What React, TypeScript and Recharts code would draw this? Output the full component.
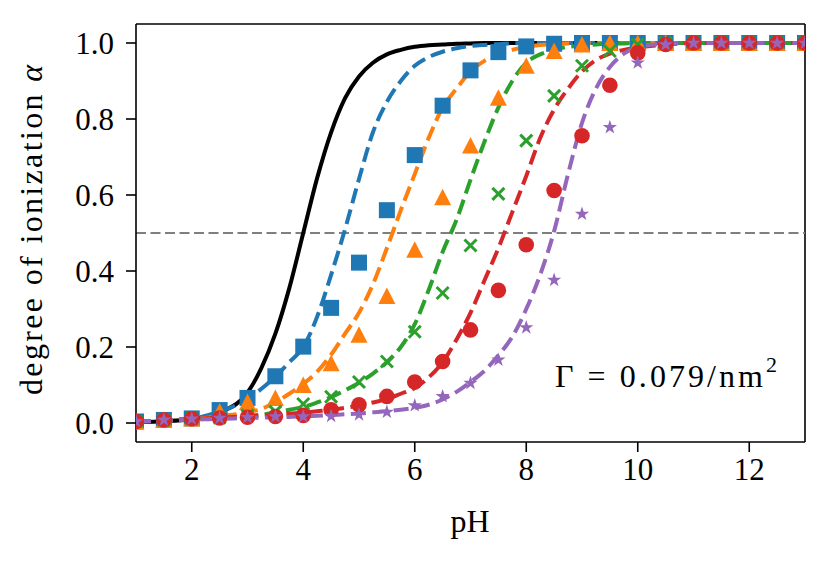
import { ComposedChart, Line, Scatter, XAxis, YAxis, ReferenceLine, Label } from "recharts";

const curvePH = [1, 2, 2.5, 3, 3.25, 3.5, 3.75, 4, 4.25, 4.5, 4.75, 5, 5.25, 5.5, 5.75, 6, 6.25, 6.5, 6.75, 7, 7.25, 7.5, 7.75, 8, 8.25, 8.5, 8.75, 9, 9.25, 9.5, 9.75, 10, 10.5, 11, 12, 13];

const ideal = [0.002, 0.01, 0.028, 0.08, 0.145, 0.235, 0.355, 0.5, 0.645, 0.765, 0.855, 0.912, 0.948, 0.97, 0.982, 0.99, 0.994, 0.996, 0.998, 0.999, 1, 1, 1, 1, 1, 1, 1, 1, 1, 1, 1, 1, 1, 1, 1, 1];
const fitBlue = [0.004, 0.012, 0.03, 0.063, 0.09, 0.122, 0.16, 0.2, 0.28, 0.39, 0.51, 0.642, 0.765, 0.845, 0.9, 0.94, 0.963, 0.977, 0.986, 0.992, 0.995, 0.997, 0.999, 1, 1, 1, 1, 1, 1, 1, 1, 1, 1, 1, 1, 1];
const fitOrange = [0.004, 0.01, 0.018, 0.028, 0.037, 0.055, 0.077, 0.103, 0.135, 0.18, 0.235, 0.29, 0.365, 0.46, 0.56, 0.655, 0.75, 0.83, 0.88, 0.925, 0.953, 0.97, 0.982, 0.99, 0.995, 0.997, 0.999, 1, 1, 1, 1, 1, 1, 1, 1, 1];
const fitGreen = [0.004, 0.009, 0.013, 0.018, 0.022, 0.028, 0.035, 0.042, 0.054, 0.068, 0.086, 0.106, 0.13, 0.16, 0.2, 0.26, 0.35, 0.45, 0.535, 0.64, 0.74, 0.83, 0.9, 0.948, 0.97, 0.982, 0.99, 0.993, 0.996, 0.998, 0.999, 1, 1, 1, 1, 1];
const fitRed = [0.004, 0.01, 0.014, 0.018, 0.02, 0.022, 0.025, 0.027, 0.031, 0.035, 0.04, 0.046, 0.054, 0.063, 0.077, 0.092, 0.12, 0.16, 0.22, 0.29, 0.375, 0.46, 0.555, 0.65, 0.75, 0.825, 0.88, 0.925, 0.955, 0.972, 0.982, 0.988, 0.996, 1, 1, 1];
const fitPurple = [0.004, 0.009, 0.011, 0.013, 0.014, 0.015, 0.016, 0.017, 0.019, 0.021, 0.023, 0.025, 0.028, 0.031, 0.035, 0.04, 0.048, 0.062, 0.082, 0.108, 0.137, 0.178, 0.227, 0.3, 0.39, 0.505, 0.655, 0.79, 0.88, 0.937, 0.972, 0.989, 0.998, 1, 1, 1];

// simulation points
const markerPH = [1, 1.5, 2, 2.5, 3, 3.5, 4, 4.5, 5, 5.5, 6, 6.5, 7, 7.5, 8, 8.5, 9, 9.5, 10, 10.5, 11, 11.5, 12, 12.5, 13];
const simBlue = [0.004, 0.008, 0.012, 0.034, 0.066, 0.123, 0.201, 0.303, 0.422, 0.56, 0.705, 0.835, 0.928, 0.976, 0.991, 0.998, 1, 1, 1, 1, 1, 1, 1, 1, 1];
const simOrange = [0.004, 0.008, 0.012, 0.03, 0.055, 0.066, 0.1, 0.157, 0.232, 0.334, 0.456, 0.594, 0.73, 0.856, 0.94, 0.979, 0.996, 1, 1, 1, 1, 1, 1, 1, 1];
const simGreen = [0.004, 0.008, 0.011, 0.014, 0.02, 0.03, 0.05, 0.069, 0.108, 0.162, 0.24, 0.342, 0.467, 0.603, 0.743, 0.861, 0.94, 0.979, 0.996, 1, 1, 1, 1, 1, 1];
const simRed = [0.004, 0.008, 0.011, 0.013, 0.015, 0.017, 0.02, 0.035, 0.048, 0.07, 0.108, 0.162, 0.245, 0.349, 0.469, 0.612, 0.756, 0.889, 0.974, 0.996, 1, 1, 1, 1, 1];
const simPurple = [0.004, 0.008, 0.011, 0.013, 0.015, 0.017, 0.017, 0.018, 0.022, 0.029, 0.046, 0.07, 0.105, 0.166, 0.251, 0.376, 0.55, 0.778, 0.948, 0.996, 1, 1, 1, 1, 1];

const xTicks = [2, 4, 6, 8, 10, 12];
const yTicks = [0, 0.2, 0.4, 0.6, 0.8, 1.0];

const FONT = '"Liberation Serif", "Times New Roman", serif';
const C = { blue: "#1f77b4", orange: "#ff7f0e", green: "#2ca02c", red: "#d62728", purple: "#9467bd" };

const rows = curvePH.map((x, i) => ({
  x,
  ideal: ideal[i],
  blue: fitBlue[i],
  orange: fitOrange[i],
  green: fitGreen[i],
  red: fitRed[i],
  purple: fitPurple[i],
}));
const pts = (ys: number[]) => markerPH.map((x, i) => ({ x, y: ys[i] }));

const square = (p: any) => <rect x={p.cx - 8} y={p.cy - 8} width={16} height={16} fill={C.blue} />;
const triangle = (p: any) => (
  <polygon points={`${p.cx},${p.cy - 8.5} ${p.cx - 8.5},${p.cy + 8} ${p.cx + 8.5},${p.cy + 8}`} fill={C.orange} />
);
const cross = (p: any) => (
  <path d={`M${p.cx - 6},${p.cy - 6}L${p.cx + 6},${p.cy + 6}M${p.cx - 6},${p.cy + 6}L${p.cx + 6},${p.cy - 6}`} stroke={C.green} strokeWidth={3} />
);
const circle = (p: any) => <circle cx={p.cx} cy={p.cy} r={7.8} fill={C.red} />;
const star = (p: any) => {
  const pts: string[] = [];
  for (let k = 0; k < 10; k++) {
    const r = k % 2 === 0 ? 7.5 : 2.9;
    const a = -Math.PI / 2 + (k * Math.PI) / 5;
    pts.push(`${p.cx + r * Math.cos(a)},${p.cy + r * Math.sin(a)}`);
  }
  return <polygon points={pts.join(" ")} fill={C.purple} />;
};

const dash = "15 6.5";
const lw = 4;
const frame = { stroke: "#000", strokeWidth: 1.6 };

export default function App() {
  return (
    <div style={{ position: "absolute", left: 0, top: 0, width: 830, height: 566, background: "#fff" }}>
      <ComposedChart width={830} height={566} data={rows} margin={{ top: 24, right: 25, left: 0, bottom: 0 }}>
        <XAxis
          dataKey="x"
          type="number"
          domain={[1, 13]}
          ticks={xTicks}
          allowDataOverflow
          height={124}
          tickSize={10}
          tickMargin={6}
          axisLine={frame}
          tickLine={frame}
          tick={{ fill: "#000", fontSize: 31, fontFamily: FONT }}
        >
          <Label
            content={() => (
              <text x={470} y={532} textAnchor="middle" fontFamily={FONT} fontSize={32} fill="#000">
                pH
              </text>
            )}
          />
        </XAxis>
        <YAxis
          type="number"
          domain={[-0.05, 1.05]}
          ticks={yTicks}
          allowDataOverflow
          width={136}
          tickSize={10}
          tickMargin={12}
          tickFormatter={(v: number) => v.toFixed(1)}
          axisLine={frame}
          tickLine={frame}
          tick={{ fill: "#000", fontSize: 31, fontFamily: FONT }}
        >
          <Label
            content={() => (
              <text x={42} y={230} transform="rotate(-90 42 230)" textAnchor="middle" fontFamily={FONT} fontSize={32} fill="#000" textLength={330} lengthAdjust="spacing">
                degree of ionization <tspan fontStyle="italic">α</tspan>
              </text>
            )}
          />
        </YAxis>

        <ReferenceLine y={1.05} {...frame} />
        <ReferenceLine x={13} {...frame} />
        <ReferenceLine y={0.5} stroke="#7f7f7f" strokeWidth={2.2} strokeDasharray="10 4.5" />
        <Line type="monotone" dataKey="ideal" stroke="#000" strokeWidth={lw} dot={false} isAnimationActive={false} />

        <Scatter data={pts(simBlue)} dataKey="y" shape={square} isAnimationActive={false} />
        <Line type="monotone" dataKey="blue" stroke={C.blue} strokeWidth={lw} strokeDasharray={dash} dot={false} isAnimationActive={false} />
        <Scatter data={pts(simOrange)} dataKey="y" shape={triangle} isAnimationActive={false} />
        <Line type="monotone" dataKey="orange" stroke={C.orange} strokeWidth={lw} strokeDasharray={dash} dot={false} isAnimationActive={false} />
        <Scatter data={pts(simGreen)} dataKey="y" shape={cross} isAnimationActive={false} />
        <Line type="monotone" dataKey="green" stroke={C.green} strokeWidth={lw} strokeDasharray={dash} dot={false} isAnimationActive={false} />
        <Scatter data={pts(simRed)} dataKey="y" shape={circle} isAnimationActive={false} />
        <Line type="monotone" dataKey="red" stroke={C.red} strokeWidth={lw} strokeDasharray={dash} dot={false} isAnimationActive={false} />
        <Scatter data={pts(simPurple)} dataKey="y" shape={star} isAnimationActive={false} />
        <Line type="monotone" dataKey="purple" stroke={C.purple} strokeWidth={lw} strokeDasharray={dash} dot={false} isAnimationActive={false} />
      </ComposedChart>
      <svg width={830} height={566} style={{ position: "absolute", left: 0, top: 0, pointerEvents: "none" }}>
        <text x={555} y={387} fontFamily={FONT} fontSize={32} fill="#000" textLength={208} lengthAdjust="spacing">
          Γ = 0.079/nm
        </text>
        <text x={766} y={372} fontFamily={FONT} fontSize={22} fill="#000">
          2
        </text>
      </svg>
    </div>
  );
}
